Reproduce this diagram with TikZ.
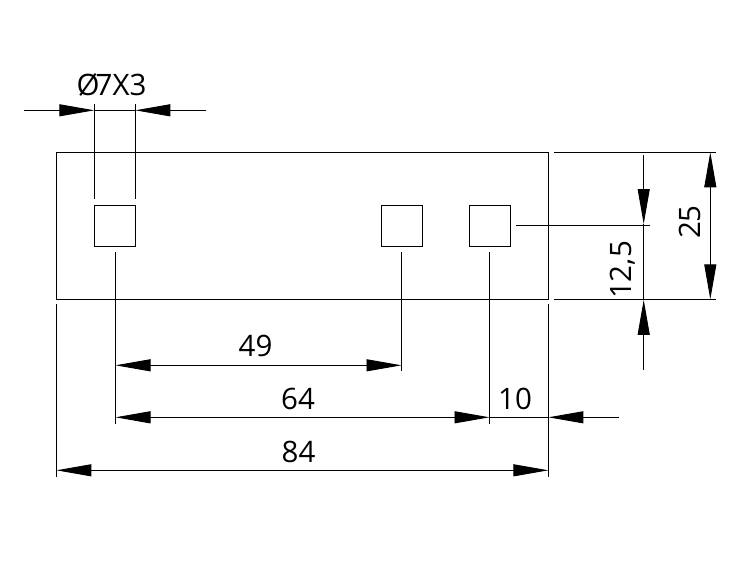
\documentclass[tikz,border=0pt]{standalone}
\usepackage{fontspec}
\setmainfont{Open Sans}
\usetikzlibrary{arrows.meta}
\tikzset{
  x=1pt,y=-1pt,
  line/.style={draw=black,line width=0.9pt},
  plate/.style={line,rectangle,inner sep=0pt,outer sep=0pt,anchor=north west,minimum width=492pt,minimum height=147pt},
  hole/.style={draw=black,line width=0.8pt,rectangle,inner sep=0pt,outer sep=0pt,anchor=north west,minimum width=41pt,minimum height=41pt},
  tipa/.tip={Triangle[length=35pt,width=12pt,fill=black]},
  dimone/.style={line,-{tipa}},
  dimtwo/.style={line,{tipa}-{tipa}},
  dimtext/.style={inner sep=0pt,outer sep=0pt,font=\fontsize{29.5}{29.5}\selectfont,text=black}
}
\begin{document}
\begin{tikzpicture}
\useasboundingbox[fill=white] (0,0) rectangle (739,566);
\node[plate] (P) at (56.4,152.3) {};
\node[hole] (H1) at (94.3,205.3) {};
\node[hole] (H2) at (381.6,205.3) {};
\node[hole] (H3) at (469.6,205.3) {};
% free ends
\coordinate (a1) at (94.3,104); \coordinate (a1b) at (94.3,199.3);
\coordinate (a2) at (135.3,104); \coordinate (a2b) at (135.3,199.3);
\coordinate (b0) at (24,110.3); \coordinate (b1) at (94.3,110.3);
\coordinate (b2) at (135.3,110.3); \coordinate (b3) at (206,110.3);
\coordinate (c1) at (115.5,252); \coordinate (c1b) at (115.5,424);
\coordinate (c2) at (401.5,252); \coordinate (c2b) at (401.5,371);
\coordinate (c3) at (489.5,252); \coordinate (c3b) at (489.5,424);
\coordinate (l1) at (56.4,304); \coordinate (l1b) at (56.4,476.7);
\coordinate (r1) at (548.4,304); \coordinate (r1b) at (548.4,476.7);
\coordinate (t1) at (554,152.3); \coordinate (t1b) at (716,152.3);
\coordinate (t2) at (554,299.3); \coordinate (t2b) at (716,299.3);
\coordinate (m1) at (516,225.3); \coordinate (m1b) at (650,225.3);
\coordinate (d49a) at (115.5,365.3); \coordinate (d49b) at (401.5,365.3);
\coordinate (d64a) at (115.5,417.3); \coordinate (d64b) at (489.5,417.3);
\coordinate (d84a) at (56.4,470.3); \coordinate (d84b) at (548.4,470.3);
\coordinate (d10e) at (619,417.3); \coordinate (d10r) at (548.4,417.3);
\coordinate (v25a) at (710.3,152.3); \coordinate (v25b) at (710.3,299.3);
\coordinate (v12a) at (643.7,155); \coordinate (v12t) at (643.7,224);
\coordinate (v12b) at (643.7,370); \coordinate (v12u) at (643.7,299.8);
% extension lines
\draw[line] (a1) -- (a1b);
\draw[line] (a2) -- (a2b);
\draw[line] (c1) -- (c1b);
\draw[line] (c2) -- (c2b);
\draw[line] (c3) -- (c3b);
\draw[line] (l1) -- (l1b);
\draw[line] (r1) -- (r1b);
\draw[line] (t1) -- (t1b);
\draw[line] (t2) -- (t2b);
\draw[line] (m1) -- (m1b);
% dimensions
\draw[dimone] (b0) -- (b1);
\draw[line] (b1) -- (b2);
\draw[dimone] (b3) -- (b2);
\draw[dimtwo] (d49a) -- (d49b);
\draw[dimtwo] (d64a) -- (d64b);
\draw[dimtwo] (d84a) -- (d84b);
\draw[line] (d64b) -- (d10r);
\draw[dimone] (d10e) -- (d10r);
\draw[dimtwo] (v25a) -- (v25b);
\draw[dimone] (v12a) -- (v12t);
\draw[line] (v12t) -- (v12u);
\draw[dimone] (v12b) -- (v12u);
% labels
\node[dimtext] (LA) at (111.5,85) {Ø\kern-0.13em7X3};
\node[dimtext] (L49) at (255.5,345.5) {49};
\node[dimtext] (L64) at (298,399) {64};
\node[dimtext] (L10) at (515,399) {10};
\node[dimtext] (L84) at (298.5,451.5) {84};
\node[dimtext,rotate=90] (L25) at (690,222) {25};
\node[dimtext,rotate=90] (L12) at (623,270) {12,5};
\end{tikzpicture}
\end{document}
